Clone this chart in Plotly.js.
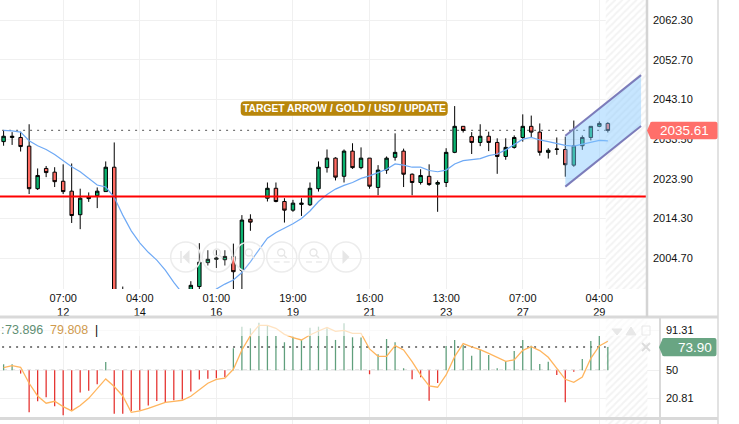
<!DOCTYPE html>
<html><head><meta charset="utf-8">
<script src="https://cdn.plot.ly/plotly-3.0.1.min.js"></script>
<style>html,body{margin:0;padding:0;background:#fff;overflow:hidden}#c{width:739px;height:424px}</style>
</head><body><div id="c"></div>
<script>
var _=null;
var highs=[2035.5,2035.2,2035.3,2037.1,2026.4,2027.0,2026.7,2027.4,2027.6,2021.5,2020.6,2021.8,2028.1,2032.7,1997.8,_,_,_,_,_,_,_,1999.1,2008.3,2006.6,2006.6,2006.6,2008.2,2015.1,2015.3,_,2023.0,2023.0,2019.2,2018.8,2019.2,2023.0,2028.1,2031.0,2029.1,2031.0,2032.5,2031.5,2028.9,2027.2,2029.3,2034.9,2031.2,2025.2,2026.2,2027.4,2023.5,2031.3,2041.5,2036.6,2035.2,2037.1,2035.3,2033.7,2033.7,2034.4,2039.5,2039.2,2037.3,2031.3,2033.9,2034.1,2038.0,2034.4,2036.6,2037.8,2037.6];
var lows=[2031.9,2032.1,2030.5,2020.2,2021.2,2024.3,2021.9,2020.2,2013.2,2011.7,2018.3,2016.8,2020.8,1992.0,1988.0,_,_,_,_,_,_,_,1992.0,1995.0,2002.9,2002.3,2002.9,1995.0,1995.0,2011.3,_,2018.4,2018.2,2013.3,2015.9,2014.9,2017.3,2020.8,2025.4,2023.5,2023.0,2026.3,2026.2,2021.5,2019.9,2025.1,2028.3,2021.9,2019.9,2022.5,2022.2,2015.9,2021.9,2030.1,2035.1,2029.9,2031.8,2030.6,2025.1,2028.5,2031.2,2032.9,2033.9,2029.5,2028.8,2029.7,2024.4,2026.8,2030.9,2033.2,2036.4,2035.1];
var opens=[2032.9,2033.9,2033.9,2031.8,2021.5,2026.4,2025.5,2023.3,2020.9,2015.2,2019.1,2019.8,2020.8,2026.7,1994.0,_,_,_,_,_,_,_,1995.0,1997.8,2003.6,2004.4,2004.3,2005.1,2001.7,2014.1,_,2019.2,2021.6,2018.4,2016.3,2017.7,2017.6,2021.5,2026.6,2028.9,2024.5,2030.6,2026.6,2028.9,2021.8,2026.0,2029.1,2030.6,2025.0,2023.0,2024.5,2022.6,2023.0,2030.3,2036.6,2034.1,2032.7,2034.2,2032.7,2029.3,2031.5,2033.9,2036.6,2035.2,2030.3,2031.0,2031.0,2027.2,2031.9,2033.9,2036.6,2037.3];
var closes=[2034.2,2034.2,2031.7,2021.5,2024.7,2025.4,2023.2,2020.8,2015.0,2019.2,2019.5,2020.9,2026.7,1994.0,1990.0,_,_,_,_,_,_,_,1998.1,2003.7,2004.4,2004.7,2005.1,2001.4,2013.9,2013.4,_,2021.6,2018.4,2016.3,2018.0,2018.0,2021.6,2026.7,2028.9,2024.3,2030.6,2026.6,2028.9,2022.1,2026.0,2028.9,2030.3,2025.0,2023.0,2024.7,2022.5,2023.0,2030.3,2036.6,2035.6,2032.7,2034.2,2032.7,2029.3,2031.5,2033.9,2036.6,2035.2,2030.3,2030.8,2031.1,2027.3,2031.9,2033.9,2036.6,2037.3,2035.61];
var movingAvg=[2035.6,2035.5,2035.2,2033.1,2031.9,2031.0,2029.8,2028.3,2026.8,2025.6,2024.0,2022.4,2021.9,2019.4,2015.1,2011.3,2008.4,2006.1,2004.2,2001.8,1998.8,1996.2,1994.5,1994.0,1995.5,1997.2,1998.4,1999.4,2001.2,2003.8,2006.7,2009.5,2010.9,2011.9,2013.0,2014.3,2016.1,2018.4,2020.1,2021.4,2022.3,2023.0,2024.0,2024.6,2025.4,2026.2,2027.5,2027.2,2026.7,2026.7,2025.9,2025.6,2026.0,2027.5,2028.3,2028.5,2028.8,2029.5,2029.9,2030.9,2032.1,2033.5,2033.9,2033.3,2032.9,2032.5,2032.0,2031.8,2032.3,2032.8,2033.2,2033.1];
var oscBars=[56.2,56.2,46.6,6.7,18.0,22.2,12.9,3.6,8.1,27.0,29.0,35.6,58.6,5.3,5.3,8.1,8.8,13.6,18.4,17.0,19.1,19.8,28.0,40.4,41.4,41.8,42.8,72.7,95.0,93.3,99.1,95.7,85.4,78.9,84.7,81.3,94.0,95.0,93.3,81.3,98.5,84.0,83.7,45.9,66.5,82.3,78.9,52.1,40.7,42.8,18.7,36.9,75.1,81.3,76.1,65.1,71.0,65.8,52.1,59.6,69.9,81.3,75.4,56.5,58.9,45.2,17.0,48.6,61.7,80.2,85.4,73.9];
var oscSignal=[52.7,54.8,53.1,36.6,23.5,16.0,18.0,12.5,8.1,13.6,21.1,30.8,41.1,33.2,23.5,6.7,8.1,10.8,14.3,17.0,18.0,19.1,23.2,29.7,36.6,40.7,41.8,51.0,71.0,85.7,96.4,96.4,93.3,87.1,83.7,81.3,86.4,90.5,94.3,90.2,91.2,88.1,88.1,72.0,64.4,64.4,75.4,71.0,58.9,45.2,33.8,32.5,45.2,64.1,77.5,74.1,71.3,67.5,63.4,59.3,60.7,70.6,74.4,70.3,63.4,52.1,40.7,37.6,43.1,62.4,75.1,79.9];
var priceTicks=[2004.70,2014.30,2023.90,2033.50,2043.10,2052.70,2062.30];
var priceTickText=['2004.70','2014.30','2023.90','2033.50','2043.10','2052.70','2062.30'];
var oscTicks=[20.81,50,91.31];
var oscTickText=['20.81','50','91.31'];
var timeTickIdx=[7,16,25,34,43,52,61,70];
var timeTickText=['07:00<br>12','04:00<br>14','01:00<br>16','19:00<br>19','16:00<br>21','13:00<br>23','07:00<br>27','04:00<br>29'];
var lastPrice=2035.61, supportLevel=2019.6, lastOsc=73.9, oscMid=50;
var arrowX=[66,74.9], arrowTop=[2034.3,2049.0], arrowBottom=[2022.0,2036.7];
var title='TARGET ARROW / GOLD / USD / UPDATE';

var idx=highs.map(function(v,i){return i;});
var GREEN='#0ab26f',RED='#ff6b62';
function px(x){return x/739;}
function py(y){return 1-y/424;}
function P(x,y){return px(x).toFixed(5)+','+py(y).toFixed(5);}
function hline(x0,x1,y,c,w){return {type:'line',xref:'paper',yref:'paper',x0:px(x0),x1:px(x1),y0:py(y),y1:py(y),line:{color:c,width:w},layer:'above'};}
function vline(x,y0,y1,c,w){return {type:'line',xref:'paper',yref:'paper',x0:px(x),x1:px(x),y0:py(y0),y1:py(y1),line:{color:c,width:w},layer:'above'};}
function rr(x0,y0,x1,y1,r,fill,tip){
  var d='M '+P(x0+r,y0)+' L '+P(x1-r,y0)+' Q '+P(x1,y0)+' '+P(x1,y0+r)+' L '+P(x1,y1-r)+' Q '+P(x1,y1)+' '+P(x1-r,y1)+' L '+P(x0+r,y1)+' Q '+P(x0,y1)+' '+P(x0,y1-r);
  if(tip){d+=' L '+P(x0-tip,(y0+y1)/2);}
  d+=' L '+P(x0,y0+r)+' Q '+P(x0,y0)+' '+P(x0+r,y0)+' Z';
  return {type:'path',xref:'paper',yref:'paper',path:d,fillcolor:fill,line:{width:0},layer:'above'};
}
var shapes=[];
shapes.push({type:'line',xref:'x',yref:'y',x0:-1,x1:76,y0:lastPrice,y1:lastPrice,line:{color:'#777',width:1.4,dash:'2px,5px'},layer:'below'});
shapes.push({type:'line',xref:'x2',yref:'y2',x0:-1,x1:75.6,y0:lastOsc,y1:lastOsc,line:{color:'#555',width:1.5,dash:'2px,5px'},layer:'below'});
shapes.push({type:'line',xref:'x2',yref:'y2',x0:-1,x1:75.6,y0:oscMid,y1:oscMid,line:{color:'#888',width:1,dash:'4px,4px'},layer:'below'});
shapes.push({type:'path',xref:'x',yref:'y',path:'M '+arrowX[0]+','+arrowTop[0]+' L '+arrowX[1]+','+arrowTop[1]+' L '+arrowX[1]+','+arrowBottom[1]+' L '+arrowX[0]+','+arrowBottom[0]+' Z',fillcolor:'rgba(130,200,255,0.45)',line:{width:0},layer:'above'});
shapes.push({type:'line',xref:'x',yref:'y',x0:arrowX[0],x1:arrowX[1],y0:arrowTop[0],y1:arrowTop[1],line:{color:'#7c7cba',width:2},layer:'above'});
shapes.push({type:'line',xref:'x',yref:'y',x0:arrowX[0],x1:arrowX[1],y0:arrowBottom[0],y1:arrowBottom[1],line:{color:'#7c7cba',width:2},layer:'above'});
shapes.push({type:'line',xref:'x',yref:'y',x0:-1,x1:75.6,y0:supportLevel,y1:supportLevel,line:{color:'#ff0000',width:2},layer:'above'});
shapes.push({type:'rect',xref:'paper',yref:'paper',x0:0,x1:px(660),y0:py(318),y1:py(336),fillcolor:'rgba(255,255,255,0.62)',line:{width:0},layer:'above'});
shapes.push(hline(0,718,317,'#d9d9d9',3));
shapes.push(hline(0,718,418.5,'#d9d9d9',3));
shapes.push(vline(647,0,317,'#d4d4d4',2.5));
shapes.push(vline(660,317,424,'#d9d9d9',2));
shapes.push(vline(718,0,424,'#d9d9d9',1.5));
var NAV='#ececec',NAVI='#e6e6e6';
[185.7,217.3,249.3,281.7,314,346].forEach(function(cx){
  shapes.push({type:'circle',xref:'paper',yref:'paper',x0:px(cx-15),x1:px(cx+15),y0:py(257-15),y1:py(257+15),line:{color:NAV,width:1.5},fillcolor:'rgba(255,255,255,0.12)',layer:'above'});
});
function tri(cx,dir){return {type:'path',xref:'paper',yref:'paper',path:'M '+P(cx-dir*3.5,257)+' L '+P(cx+dir*3.5,250)+' L '+P(cx+dir*3.5,264)+' Z',fillcolor:NAVI,line:{width:0},layer:'above'};}
shapes.push(tri(186,1));shapes.push(vline(181,251,263,NAVI,1.5));
shapes.push(tri(346,-1));
[217.3,249.3,281.7,314].forEach(function(cx){
  shapes.push({type:'circle',xref:'paper',yref:'paper',x0:px(cx-4),x1:px(cx+3),y0:py(249),y1:py(256),line:{color:NAVI,width:1.3},layer:'above'});
  shapes.push({type:'line',xref:'paper',yref:'paper',x0:px(cx+2),x1:px(cx+5),y0:py(255),y1:py(258),line:{color:NAVI,width:1.5},layer:'above'});
});
[[281.7,1],[314,-1]].forEach(function(a){
  shapes.push(hline(a[0]-8,a[0]-2,262,NAVI,1.2));
  shapes.push(hline(a[0]+2,a[0]+8,262,NAVI,1.2));
});
var ICON='#e8e8e8';
shapes.push({type:'path',xref:'paper',yref:'paper',path:'M '+P(612,329)+' L '+P(622,329)+' L '+P(617,335)+' Z',fillcolor:ICON,line:{color:ICON,width:1},layer:'above'});
shapes.push({type:'path',xref:'paper',yref:'paper',path:'M '+P(631,327)+' L '+P(636,335)+' L '+P(626,335)+' Z',fillcolor:ICON,line:{color:ICON,width:1},layer:'above'});
shapes.push({type:'rect',xref:'paper',yref:'paper',x0:px(642),x1:px(650),y0:py(326),y1:py(335),line:{color:ICON,width:1},fillcolor:'rgba(0,0,0,0)',layer:'above'});
shapes.push({type:'line',xref:'paper',yref:'paper',x0:px(642),x1:px(650),y0:py(343),y1:py(351),line:{color:'#dcdcdc',width:2},layer:'above'});
shapes.push({type:'line',xref:'paper',yref:'paper',x0:px(642),x1:px(650),y0:py(351),y1:py(343),line:{color:'#dcdcdc',width:2},layer:'above'});
shapes.push(rr(240.7,101.3,447.7,115.7,4,'#b8860b'));
shapes.push(rr(650,121.7,717.5,139.3,2,'#ff6f6a',3));
shapes.push(rr(662,338,716.5,356.3,2,'#69a583',3));

function txt(x,y,s,c,size,anchor){
  return {xref:'paper',yref:'paper',x:px(x),y:py(y),text:s,showarrow:false,xanchor:anchor||'left',yanchor:'middle',font:{family:'"Liberation Sans",Arial,sans-serif',size:size,color:c},borderpad:0};
}
var annotations=[
  txt(344.2,108.5,'<b>'+title+'</b>','#ffffff',10.3,'center'),
  txt(684,130.5,lastPrice.toFixed(2),'#ffffff',13.5,'center'),
  txt(713,347.3,lastOsc.toFixed(2),'#ffffff',13.5,'right'),
  txt(0,330,':','#5f8f74',12.5,'left'),
  txt(3.5,330,'73.896','#5f8f74',12.5,'left'),
  txt(48.5,330,'79.808','#cf9a4e',12.5,'left'),
  txt(96,330,'|','#000000',12,'center')
];
var hatch={shape:'/',fgcolor:'#f3f3f3',bgcolor:'#ffffff',size:5,solidity:0.35};
var traces=[
 {type:'bar',x:[73.2],y:[2067.19-1997.21],base:[1997.21],width:[4.9],xaxis:'x',yaxis:'y',marker:{color:'#fff',line:{width:0},pattern:hatch},hoverinfo:'skip',showlegend:false},
 {type:'bar',x:[73.2],y:[102.9+5.4],base:[-5.4],width:[4.9],xaxis:'x2',yaxis:'y2',marker:{color:'#fff',line:{width:0},pattern:hatch},hoverinfo:'skip',showlegend:false},
 {type:'candlestick',x:idx,open:opens,high:highs,low:lows,close:closes,xaxis:'x',yaxis:'y',
  increasing:{fillcolor:GREEN,line:{color:'#000',width:1}},decreasing:{fillcolor:RED,line:{color:'#000',width:1}},whiskerwidth:0,showlegend:false,hoverinfo:'skip'},
 {type:'scatter',mode:'lines',x:idx,y:movingAvg,xaxis:'x',yaxis:'y',line:{color:'#6ea9f5',width:1.2},showlegend:false,hoverinfo:'skip'},
 {type:'bar',x:idx,y:oscBars.map(function(v){return v-oscMid;}),base:oscBars.map(function(){return oscMid;}),width:0.15,xaxis:'x2',yaxis:'y2',
  marker:{color:oscBars.map(function(v){return v>=oscMid?'#5f9f7c':'#e5322f';}),line:{width:0}},showlegend:false,hoverinfo:'skip'},
 {type:'scatter',mode:'lines',x:idx,y:oscSignal,xaxis:'x2',yaxis:'y2',line:{color:'#ffb55e',width:1.3},showlegend:false,hoverinfo:'skip'}
];
var tickFont={family:'"Liberation Sans",Arial,sans-serif',size:11,color:'#111'};
var layout={width:739,height:424,margin:{l:0,r:0,t:0,b:0},paper_bgcolor:'#fff',plot_bgcolor:'#fff',showlegend:false,barmode:'overlay',boxmode:'overlay',boxgap:0.42,
 xaxis:{domain:[0,647/739],range:[-0.423,75.6],anchor:'y',tickmode:'array',tickvals:timeTickIdx,ticktext:timeTickText,tickfont:tickFont,showgrid:true,gridcolor:'#f0f0f0',gridwidth:1,zeroline:false,showline:false,ticks:'',rangeslider:{visible:false},fixedrange:true,ticklabelstandoff:1},
 xaxis2:{domain:[0,660/739],range:[-0.423,77.13],anchor:'y2',tickmode:'array',tickvals:timeTickIdx,showticklabels:false,showgrid:true,gridcolor:'#f0f0f0',zeroline:false,ticks:'',fixedrange:true},
 yaxis:{domain:[1-289/424,1],range:[1997.21,2067.19],side:'right',anchor:'x',tickmode:'array',tickvals:priceTicks,ticktext:priceTickText,tickfont:tickFont,showgrid:true,gridcolor:'#f0f0f0',zeroline:false,ticks:'',fixedrange:true,ticklabelstandoff:5},
 yaxis2:{domain:[0,1-319/424],range:[-5.4,102.9],side:'right',anchor:'x2',tickmode:'array',tickvals:oscTicks,ticktext:oscTickText,tickfont:tickFont,showgrid:true,gridcolor:'#f0f0f0',zeroline:false,ticks:'',fixedrange:true,ticklabelstandoff:5},
 shapes:shapes,annotations:annotations};
Plotly.newPlot('c',traces,layout,{displayModeBar:false,staticPlot:true});
</script></body></html>
